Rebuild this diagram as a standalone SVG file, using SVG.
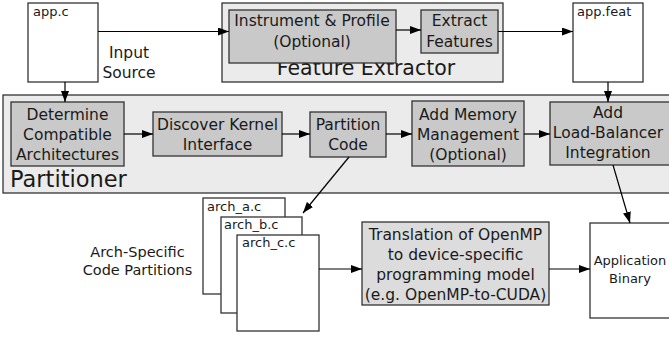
<svg xmlns="http://www.w3.org/2000/svg" width="669" height="339" viewBox="0 0 669 339">
<defs>
<marker id="ah" markerWidth="11" markerHeight="8" refX="11" refY="4" orient="auto" markerUnits="userSpaceOnUse">
<path d="M0,0 L11,4 L0,8 z" fill="#000"/>
</marker>
<style>
text{font-family:"DejaVu Sans",sans-serif;fill:#1a1a1a}
.c{text-anchor:middle}
.cont{fill:#ebebeb;stroke:#333;stroke-width:1.3}
.box{fill:#c9c9c9;stroke:#333;stroke-width:1.3}
.lbox{fill:#dcdcdc;stroke:#333;stroke-width:1.3}
.file{fill:#fff;stroke:#333;stroke-width:1.3}
.t{font-size:15.5px}
.s{font-size:13px}
.e{stroke:#000;stroke-width:1.2;fill:none;marker-end:url(#ah)}
</style>
</defs>
<g id="feature-extractor">
<rect class="cont" x="222" y="3" width="281" height="79"/>
<text class="c" x="366" y="75" style="font-size:20.5px">Feature Extractor</text>
</g>
<g id="partitioner">
<rect class="cont" x="3" y="95" width="670" height="98"/>
<text x="10" y="187" style="font-size:22.5px">Partitioner</text>
</g>
<g id="app-c">
<rect class="file" x="28" y="3" width="70" height="79"/>
<text class="s" x="33" y="16">app.c</text>
</g>
<g id="input-source-label">
<text class="c t" x="129" y="58">Input</text>
<text class="c t" x="129" y="78">Source</text>
</g>
<g id="instrument">
<rect class="box" x="229" y="10" width="167" height="53"/>
<text class="c t" x="312" y="26">Instrument &amp; Profile</text>
<text class="c t" x="312" y="47">(Optional)</text>
</g>
<g id="extract">
<rect class="box" x="421" y="10" width="77" height="43"/>
<text class="c t" x="459.5" y="26">Extract</text>
<text class="c t" x="459.5" y="47">Features</text>
</g>
<g id="app-feat">
<rect class="file" x="573" y="3" width="70" height="79"/>
<text class="s" x="577" y="16">app.feat</text>
</g>
<g id="determine">
<rect class="box" x="11" y="102" width="113" height="64"/>
<text class="c t" x="67.5" y="120">Determine</text>
<text class="c t" x="67.5" y="140">Compatible</text>
<text class="c t" x="67.5" y="160">Architectures</text>
</g>
<g id="discover">
<rect class="box" x="153" y="112" width="129" height="44"/>
<text class="c t" x="217.5" y="130">Discover Kernel</text>
<text class="c t" x="217.5" y="150">Interface</text>
</g>
<g id="partition-code">
<rect class="box" x="310" y="112" width="76" height="45"/>
<text class="c t" x="348" y="130">Partition</text>
<text class="c t" x="348" y="150">Code</text>
</g>
<g id="add-memory">
<rect class="box" x="412" y="101" width="112" height="65"/>
<text class="c t" x="468" y="120">Add Memory</text>
<text class="c t" x="468" y="140">Management</text>
<text class="c t" x="468" y="160">(Optional)</text>
</g>
<g id="load-balancer">
<rect class="box" x="550" y="102" width="122" height="63"/>
<text class="c t" x="608" y="118">Add</text>
<text class="c t" x="608" y="138">Load-Balancer</text>
<text class="c t" x="608" y="158">Integration</text>
</g>
<g id="arch-files">
<rect class="file" x="203" y="198" width="82" height="96"/>
<text class="s" x="207" y="211">arch_a.c</text>
<rect class="file" x="221" y="217" width="81" height="96"/>
<text class="s" x="224" y="229">arch_b.c</text>
<rect class="file" x="237" y="235" width="82" height="96"/>
<text class="s" x="242" y="247">arch_c.c</text>
</g>
<g id="arch-label">
<text class="c" x="137.5" y="257" style="font-size:14.5px">Arch-Specific</text>
<text class="c" x="137.5" y="275" style="font-size:14.5px">Code Partitions</text>
</g>
<g id="translation">
<rect class="lbox" x="362" y="222" width="187" height="83"/>
<text class="c t" x="455.5" y="240">Translation of OpenMP</text>
<text class="c t" x="455.5" y="260">to device-specific</text>
<text class="c t" x="455.5" y="280">programming model</text>
<text class="c t" x="455.5" y="300">(e.g. OpenMP-to-CUDA)</text>
</g>
<g id="app-binary">
<rect class="file" x="590" y="223" width="82" height="95"/>
<text class="c s" x="630" y="265">Application</text>
<text class="c s" x="630" y="283">Binary</text>
</g>
<g id="connectors">
<path class="e" d="M98,31.5 H229"/>
<path class="e" d="M396,30 H421"/>
<path class="e" d="M498,31.5 H573"/>
<path class="e" d="M65,82 V102"/>
<path class="e" d="M608,82 V102"/>
<path class="e" d="M124,134 H153"/>
<path class="e" d="M282,134 H310"/>
<path class="e" d="M386,134 H412"/>
<path class="e" d="M524,134 H550"/>
<path class="e" d="M349,157 L303,213"/>
<path class="e" d="M319,269 H362"/>
<path class="e" d="M549,269 H590"/>
<path class="e" d="M613,165 L630,223"/>
</g>
</svg>
